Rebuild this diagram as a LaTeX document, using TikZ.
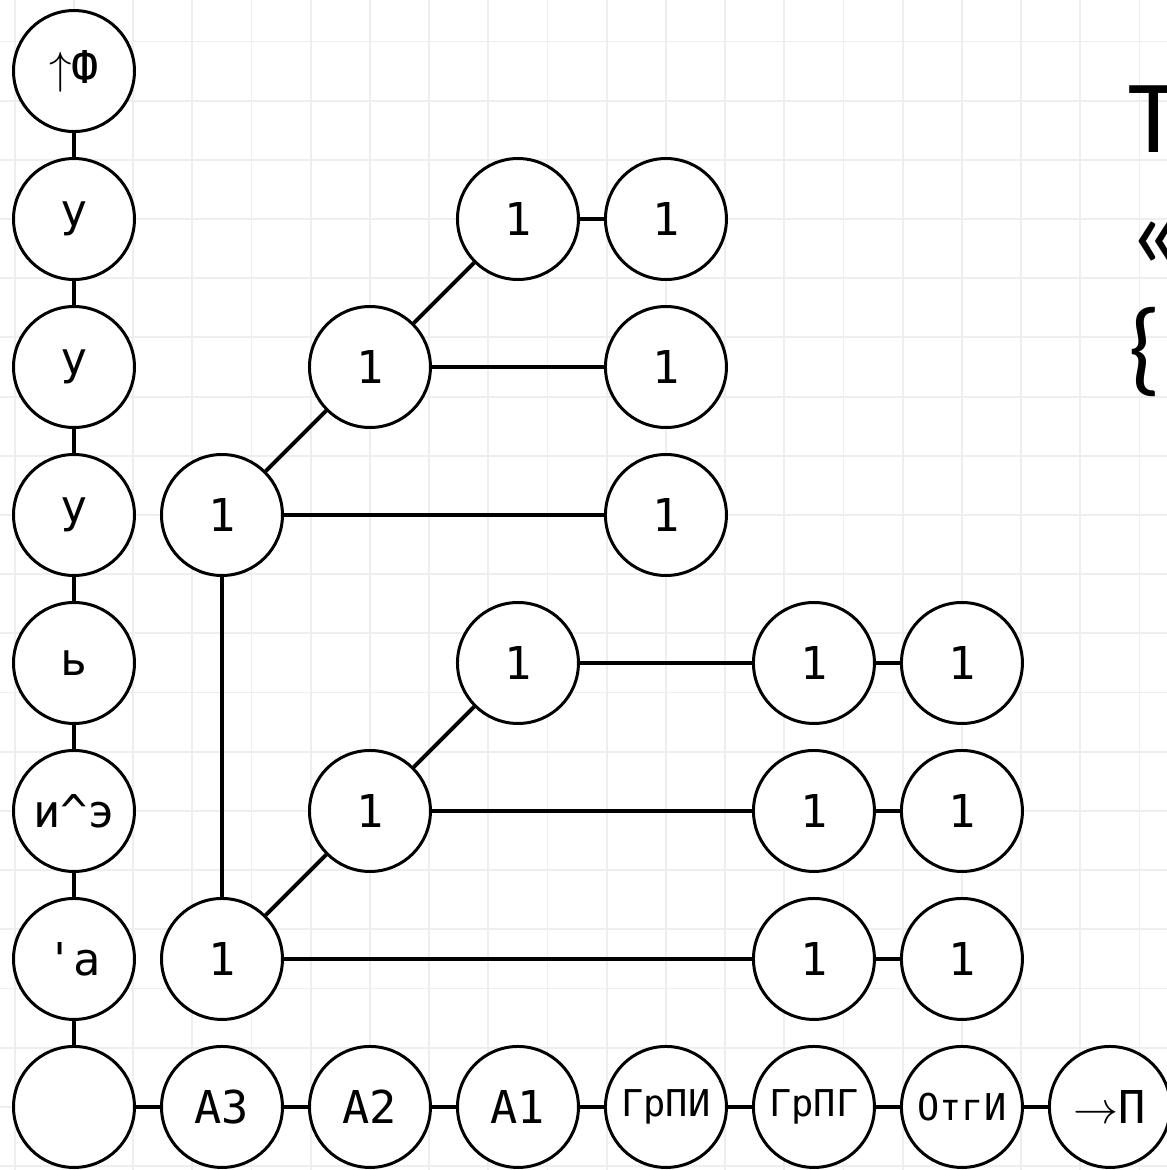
\documentclass[tikz,border=0pt]{standalone}
\usepackage{fontspec}
\setmonofont{DejaVu Sans Mono}
\newfontfamily\notefont{Carlito}
\usepackage{tikz}
\usetikzlibrary{positioning}
\definecolor{gridgray}{RGB}{238,238,238}

\begin{document}
\begin{tikzpicture}[
  x=2cm, y=2cm,
  font=\ttfamily\fontsize{17.4}{20}\selectfont,
  cell/.style={draw, circle, fill=white, line width=1.15pt, minimum size=1.635cm, inner sep=0pt},
  small/.style={font=\ttfamily\fontsize{14.2}{16}\selectfont},
  link/.style={line width=1.5pt},
  gridline/.style={draw=gridgray, line width=0.7pt}
]
\useasboundingbox (-0.5,-7.426) rectangle (7.385,0.48);
\clip (-0.5,-7.426) rectangle (7.385,0.48);
% background grid
\foreach \gx in {-0.4,0,...,7.3} \draw[gridline] (\gx,-7.5) -- (\gx,0.5);
\foreach \gy in {0.2,-0.2,...,-7.5} \draw[gridline] (-0.5,\gy) -- (7.4,\gy);

% left column
\node[cell] (up) at (0,0) {$\uparrow$Ф};
\node[cell] (y1) at (0,-1) {у};
\node[cell] (y2) at (0,-2) {у};
\node[cell] (y3) at (0,-3) {у};
\node[cell] (soft) at (0,-4) {ь};
\node[cell] (ie) at (0,-5) {и\^{}э};
\node[cell] (qa) at (0,-6) {'а};
\node[cell] (root) at (0,-7) {};

% bottom row
\node[cell] (a3) at (1,-7) {А3};
\node[cell] (a2) at (2,-7) {А2};
\node[cell] (a1) at (3,-7) {А1};
\node[cell, small] (grpi) at (4,-7) {ГрПИ};
\node[cell, small] (grpg) at (5,-7) {ГрПГ};
\node[cell, small] (otgi) at (6,-7) {ОтгИ};
\node[cell] (top) at (7,-7) {$\rightarrow$П};

% upper tree
\node[cell] (n13) at (1,-3) {1};
\node[cell] (n22) at (2,-2) {1};
\node[cell] (n31) at (3,-1) {1};
\node[cell] (n41) at (4,-1) {1};
\node[cell] (n42) at (4,-2) {1};
\node[cell] (n43) at (4,-3) {1};

% lower tree
\node[cell] (n16) at (1,-6) {1};
\node[cell] (n25) at (2,-5) {1};
\node[cell] (n34) at (3,-4) {1};
\node[cell] (n54) at (5,-4) {1};
\node[cell] (n64) at (6,-4) {1};
\node[cell] (n55) at (5,-5) {1};
\node[cell] (n65) at (6,-5) {1};
\node[cell] (n56) at (5,-6) {1};
\node[cell] (n66) at (6,-6) {1};

\draw[link] (up) -- (y1) (y1) -- (y2) (y2) -- (y3) (y3) -- (soft)
  (soft) -- (ie) (ie) -- (qa) (qa) -- (root);
\draw[link] (root) -- (a3) (a3) -- (a2) (a2) -- (a1) (a1) -- (grpi)
  (grpi) -- (grpg) (grpg) -- (otgi) (otgi) -- (top);
\draw[link] (n13) -- (n22) (n22) -- (n31) (n31) -- (n41)
  (n22) -- (n42) (n13) -- (n43) (n13) -- (n16);
\draw[link] (n16) -- (n25) (n25) -- (n34) (n34) -- (n54) (n54) -- (n64)
  (n25) -- (n55) (n55) -- (n65) (n16) -- (n56) (n56) -- (n66);

% text at the right edge, cut off as in the slide
\node[anchor=base west, align=left, inner sep=0pt,
  font=\notefont\fontsize{40}{44.4}\selectfont] (note) at (7.122,-2.108)
  {Т\\«\\\{П};
\end{tikzpicture}
\end{document}
